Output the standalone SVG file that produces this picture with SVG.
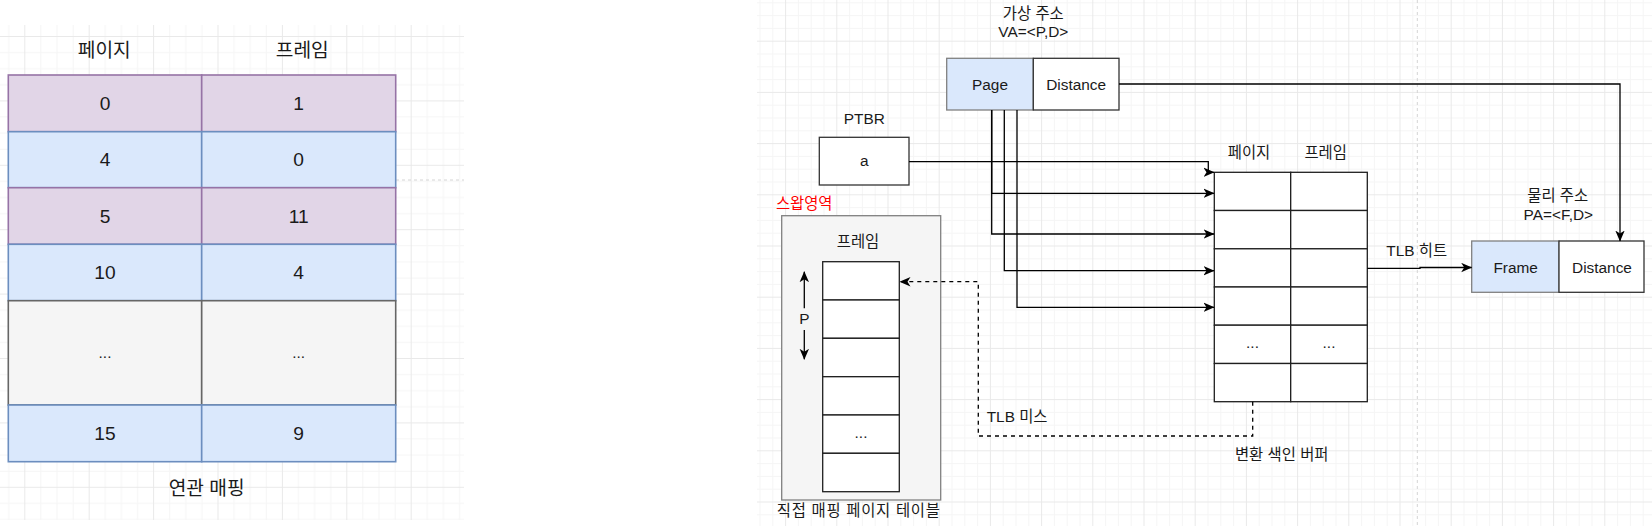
<svg xmlns="http://www.w3.org/2000/svg" width="1652" height="526" viewBox="0 0 1652 526">
<style>
text{font-family:'Liberation Sans','Noto Sans CJK KR',sans-serif;fill:#1a1a1a;text-anchor:middle;dominant-baseline:central}
.big{font-size:19.2px}
.sm{font-size:15.4px}
.pur{fill:#e1d5e7;stroke:#9673a6;stroke-width:1.6}
.blu{fill:#dae8fc;stroke:#6c8ebf;stroke-width:1.6}
.gry{fill:#f5f5f5;stroke:#666666;stroke-width:1.6}
.cell{fill:#ffffff;stroke:#1f1f1f;stroke-width:1.3}
.wbox{fill:#ffffff;stroke:#333333;stroke-width:1.3}
.bbox{fill:#dae8fc;stroke:#808080;stroke-width:1.3}
.conn{fill:none;stroke:#000000;stroke-width:1.3}
.dash{stroke-dasharray:4 4}
.pb{fill:none;stroke:#d4d4d4;stroke-width:1;stroke-dasharray:3 3}
</style>
<defs>
<pattern id="gridL" patternUnits="userSpaceOnUse" x="24.3" y="36" width="64.4" height="64.4">
<rect x="16.1" y="0" width="1" height="64.4" fill="#f5f5f5"/>
<rect x="32.2" y="0" width="1" height="64.4" fill="#f5f5f5"/>
<rect x="48.3" y="0" width="1" height="64.4" fill="#f5f5f5"/>
<rect x="0" y="16.1" width="64.4" height="1" fill="#f5f5f5"/>
<rect x="0" y="32.2" width="64.4" height="1" fill="#f5f5f5"/>
<rect x="0" y="48.3" width="64.4" height="1" fill="#f5f5f5"/>
<rect x="0" y="0" width="1" height="64.4" fill="#e9e9e9"/>
<rect x="0" y="0" width="64.4" height="1" fill="#e9e9e9"/>
</pattern>
<pattern id="gridR" patternUnits="userSpaceOnUse" x="17.1" y="40.7" width="51.2" height="51.2">
<rect x="12.8" y="0" width="1" height="51.2" fill="#f5f5f5"/>
<rect x="25.6" y="0" width="1" height="51.2" fill="#f5f5f5"/>
<rect x="38.4" y="0" width="1" height="51.2" fill="#f5f5f5"/>
<rect x="0" y="12.8" width="51.2" height="1" fill="#f5f5f5"/>
<rect x="0" y="25.6" width="51.2" height="1" fill="#f5f5f5"/>
<rect x="0" y="38.4" width="51.2" height="1" fill="#f5f5f5"/>
<rect x="0" y="0" width="1" height="51.2" fill="#e9e9e9"/>
<rect x="0" y="0" width="51.2" height="1" fill="#e9e9e9"/>
</pattern>
<marker id="arr" viewBox="0 0 11 10" refX="10.5" refY="5" markerWidth="11" markerHeight="10" markerUnits="userSpaceOnUse" orient="auto">
<path d="M0,0.3 L11,5 L0,9.7 L3,5 Z" fill="#000000"/>
</marker>
</defs>
<rect x="0" y="0" width="1652" height="526" fill="#ffffff"/>
<rect x="0" y="25" width="464" height="495" fill="url(#gridL)"/>
<rect x="757" y="0" width="895" height="526" fill="url(#gridR)"/>
<line class="pb" x1="396" y1="180" x2="464" y2="180"/>
<line class="pb" x1="1417.3" y1="0" x2="1417.3" y2="526"/>

<g id="assoc-table">
<text class="big" x="104.3" y="50">페이지</text>
<text class="big" x="302.3" y="50">프레임</text>
<rect class="pur" x="8.3" y="75" width="193.4" height="56.7"/>
<rect class="pur" x="201.7" y="75" width="194" height="56.7"/>
<text class="big" x="105" y="103.3">0</text>
<text class="big" x="298.7" y="103.3">1</text>
<rect class="blu" x="8.3" y="131.7" width="193.4" height="56"/>
<rect class="blu" x="201.7" y="131.7" width="194" height="56"/>
<text class="big" x="105" y="159.7">4</text>
<text class="big" x="298.7" y="159.7">0</text>
<rect class="pur" x="8.3" y="187.7" width="193.4" height="56.6"/>
<rect class="pur" x="201.7" y="187.7" width="194" height="56.6"/>
<text class="big" x="105" y="216">5</text>
<text class="big" x="298.7" y="216">11</text>
<rect class="blu" x="8.3" y="244.3" width="193.4" height="56.4"/>
<rect class="blu" x="201.7" y="244.3" width="194" height="56.4"/>
<text class="big" x="105" y="272.5">10</text>
<text class="big" x="298.7" y="272.5">4</text>
<rect class="gry" x="8.3" y="300.7" width="193.4" height="104.3"/>
<rect class="gry" x="201.7" y="300.7" width="194" height="104.3"/>
<text class="sm" x="105" y="352.8">...</text>
<text class="sm" x="298.7" y="352.8">...</text>
<rect class="blu" x="8.3" y="405" width="193.4" height="56.7"/>
<rect class="blu" x="201.7" y="405" width="194" height="56.7"/>
<text class="big" x="105" y="433.3">15</text>
<text class="big" x="298.7" y="433.3">9</text>
<text class="big" x="206.7" y="488.3">연관 매핑</text>
</g>

<g id="virtual-address">
<text class="sm" x="1033.3" y="13.3">가상 주소</text>
<text class="sm" x="1033.3" y="31.7">VA=&lt;P,D&gt;</text>
<rect class="bbox" x="946.7" y="58.3" width="86.6" height="51.7"/>
<rect class="wbox" x="1033.3" y="58.3" width="85.7" height="51.7"/>
<text class="sm" x="990" y="84.2">Page</text>
<text class="sm" x="1076.2" y="84.2">Distance</text>
</g>

<g id="ptbr">
<text class="sm" x="864.3" y="118.3">PTBR</text>
<rect class="wbox" x="819.3" y="137.3" width="89.7" height="47.7"/>
<text class="sm" x="864.2" y="160.5">a</text>
</g>

<g id="swap-area">
<text class="sm" x="804.2" y="203.3" style="fill:#ff0000">스왑영역</text>
<rect x="781.7" y="215.7" width="159" height="284.3" fill="#f5f5f5" stroke="#808080" stroke-width="1.3"/>
<text class="sm" x="858" y="241.7">프레임</text>
<rect class="cell" x="822.7" y="261.7" width="76.6" height="38.3"/>
<rect class="cell" x="822.7" y="300" width="76.6" height="38.3"/>
<rect class="cell" x="822.7" y="338.3" width="76.6" height="38.4"/>
<rect class="cell" x="822.7" y="376.7" width="76.6" height="38.3"/>
<rect class="cell" x="822.7" y="415" width="76.6" height="38.3"/>
<rect class="cell" x="822.7" y="453.3" width="76.6" height="38.4"/>
<text class="sm" x="861" y="432">...</text>
<line class="conn" x1="804.3" y1="308.3" x2="804.3" y2="271.7" marker-end="url(#arr)"/>
<line class="conn" x1="804.3" y1="330" x2="804.3" y2="359.3" marker-end="url(#arr)"/>
<text class="sm" x="804.3" y="318.3">P</text>
<text class="sm" x="858.3" y="510.7" textLength="163" lengthAdjust="spacing">직접 매핑 페이지 테이블</text>
</g>

<g id="tlb">
<text class="sm" x="1249" y="152.3">페이지</text>
<text class="sm" x="1325.7" y="152.3">프레임</text>
<rect class="cell" x="1214.3" y="172.3" width="76.4" height="38.2"/>
<rect class="cell" x="1290.7" y="172.3" width="76.6" height="38.2"/>
<rect class="cell" x="1214.3" y="210.5" width="76.4" height="38.3"/>
<rect class="cell" x="1290.7" y="210.5" width="76.6" height="38.3"/>
<rect class="cell" x="1214.3" y="248.8" width="76.4" height="38.2"/>
<rect class="cell" x="1290.7" y="248.8" width="76.6" height="38.2"/>
<rect class="cell" x="1214.3" y="287" width="76.4" height="38.2"/>
<rect class="cell" x="1290.7" y="287" width="76.6" height="38.2"/>
<rect class="cell" x="1214.3" y="325.2" width="76.4" height="38.3"/>
<rect class="cell" x="1290.7" y="325.2" width="76.6" height="38.3"/>
<rect class="cell" x="1214.3" y="363.5" width="76.4" height="38.2"/>
<rect class="cell" x="1290.7" y="363.5" width="76.6" height="38.2"/>
<text class="sm" x="1252.5" y="342.5">...</text>
<text class="sm" x="1329" y="342.5">...</text>
<text class="sm" x="1281.7" y="454.3">변환 색인 버퍼</text>
</g>

<g id="physical-address">
<text class="sm" x="1557.7" y="195">물리 주소</text>
<text class="sm" x="1558.3" y="214.3">PA=&lt;F,D&gt;</text>
<rect class="bbox" x="1471.7" y="241" width="87.3" height="51.3"/>
<rect class="wbox" x="1559" y="241" width="85" height="51.3"/>
<text class="sm" x="1515.7" y="267">Frame</text>
<text class="sm" x="1602" y="267">Distance</text>
</g>

<g id="connectors">
<path class="conn" d="M909,161.7 H1208.3 V172.3 H1214" marker-end="url(#arr)"/>
<path class="conn" d="M991.7,110 V193.3 H1214" marker-end="url(#arr)"/>
<path class="conn" d="M991.7,110 V234 H1214" marker-end="url(#arr)"/>
<path class="conn" d="M1004.3,110 V270.7 H1214" marker-end="url(#arr)"/>
<path class="conn" d="M1017,110 V307.3 H1214" marker-end="url(#arr)"/>
<path class="conn" d="M1119,84 H1620 V241" marker-end="url(#arr)"/>
<path class="conn" d="M1367.3,268.3 H1420 V267.5 H1471.7" marker-end="url(#arr)"/>
<text class="sm" x="1416.7" y="250.7">TLB 히트</text>
<path class="conn dash" d="M1252.7,401.7 V436 H978.3 V281.7 H900" marker-end="url(#arr)"/>
<text class="sm" x="986.7" y="416.7" style="text-anchor:start">TLB 미스</text>
</g>
</svg>
